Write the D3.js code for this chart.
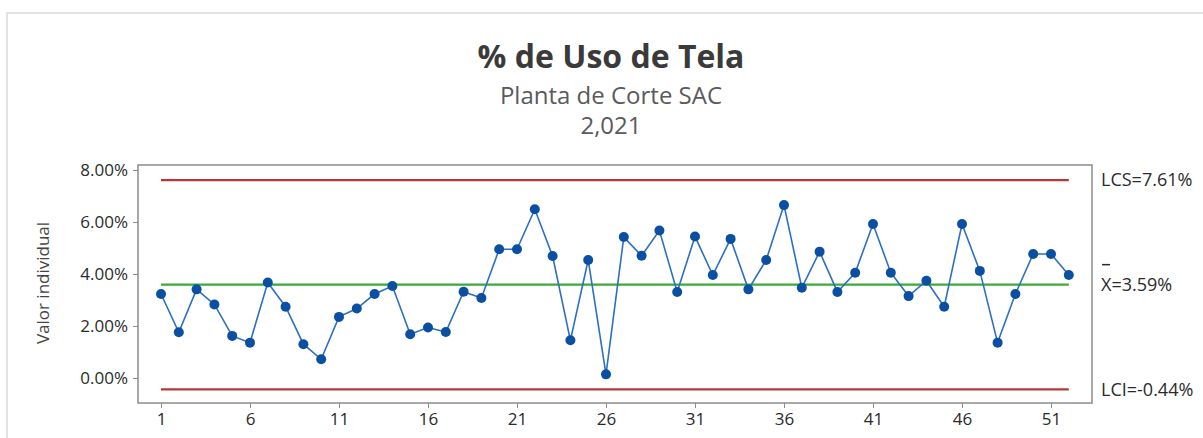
<!DOCTYPE html>
<html>
<head>
<meta charset="utf-8">
<script src="https://cdn.jsdelivr.net/npm/d3@7"></script>
<style>
  body { margin: 0; background: #fff; }
  svg { font-family: "Open Sans", "Noto Sans", sans-serif; }
</style>
</head>
<body>
<svg id="sg"></svg>
<script>
// observation numbers and individual values (%)
const obs = d3.range(1, 53);
const values = [
  3.23, 1.76, 3.41, 2.83, 1.62, 1.36, 3.67, 2.74, 1.30, 0.72,
  2.35, 2.67, 3.23, 3.54, 1.68, 1.94, 1.77, 3.32, 3.08, 4.95,
  4.95, 6.49, 4.69, 1.45, 4.54, 0.14, 5.42, 4.70, 5.67, 3.31,
  5.44, 3.96, 5.35, 3.41, 4.54, 6.65, 3.47, 4.86, 3.31, 4.05,
  5.92, 4.05, 3.15, 3.74, 2.74, 5.92, 4.12, 1.36, 3.23, 4.77,
  4.77, 3.96
];
const limits = { lcs: 7.61, mean: 3.59, lci: -0.44 };
const xTicks = [1, 6, 11, 16, 21, 26, 31, 36, 41, 46, 51];
const yTicks = [0, 2, 4, 6, 8];
const titles = ["% de Uso de Tela", "Planta de Corte SAC", "2,021"];

let svgWidth = 1203,
  svgHeight = 438;
let svg = d3.select("#sg").attr("width", svgWidth).attr("height", svgHeight);

// outer panel border
svg.append("rect")
  .attr("x", 7).attr("y", 13)
  .attr("width", 1230).attr("height", 460)
  .attr("fill", "none")
  .attr("stroke", "#d9d9d9")
  .attr("stroke-width", 1.5);

// titles
svg.append("text").attr("x", 611).attr("y", 68)
  .attr("text-anchor", "middle").attr("font-size", 32).attr("font-weight", "bold")
  .attr("fill", "#3a3a3a").text(titles[0]);
svg.append("text").attr("x", 611).attr("y", 104)
  .attr("text-anchor", "middle").attr("font-size", 24)
  .attr("fill", "#5a5a5a").text(titles[1]);
svg.append("text").attr("x", 611).attr("y", 134)
  .attr("text-anchor", "middle").attr("font-size", 24)
  .attr("fill", "#5a5a5a").text(titles[2]);

// plot frame
let frame = { left: 138, top: 165, right: 1092, bottom: 403 };
let x = d3.scaleLinear().domain([1, 51]).range([161, 1051]);
let y = d3.scaleLinear().domain([0, 8]).range([378, 170]);

svg.append("rect")
  .attr("x", frame.left).attr("y", frame.top)
  .attr("width", frame.right - frame.left).attr("height", frame.bottom - frame.top)
  .attr("fill", "none").attr("stroke", "#8c8c8c").attr("stroke-width", 1.5);

let yAxis = d3.axisLeft(y).tickValues(yTicks).tickSize(5).tickPadding(5)
  .tickFormat(d => d.toFixed(2) + "%");
let gy = svg.append("g").attr("transform", "translate(" + frame.left + ",0)").call(yAxis);
gy.select(".domain").remove();
gy.selectAll("line").attr("stroke", "#8c8c8c");
gy.selectAll("text").attr("font-size", 17).attr("fill", "#2a2a2a")
  .attr("font-family", "Open Sans, sans-serif");

let xAxis = d3.axisBottom(x).tickValues(xTicks).tickSize(5).tickPadding(5);
let gx = svg.append("g").attr("transform", "translate(0," + frame.bottom + ")").call(xAxis);
gx.select(".domain").remove();
gx.selectAll("line").attr("stroke", "#8c8c8c");
gx.selectAll("text").attr("font-size", 17).attr("fill", "#2a2a2a")
  .attr("font-family", "Open Sans, sans-serif");

svg.append("text")
  .attr("transform", "translate(49,283) rotate(-90)")
  .attr("text-anchor", "middle").attr("font-size", 17).attr("fill", "#444")
  .text("Valor individual");

// control lines
let lineSpec = [
  { v: limits.lcs, c: "#b23a3a", label: "LCS=7.61%" },
  { v: limits.mean, c: "#3aaa3a", label: "X=3.59%" },
  { v: limits.lci, c: "#b23a3a", label: "LCI=-0.44%" }
];
svg.selectAll(".cl").data(lineSpec).enter().append("line")
  .attr("x1", x(1)).attr("x2", x(52))
  .attr("y1", d => y(d.v)).attr("y2", d => y(d.v))
  .attr("stroke", d => d.c).attr("stroke-width", 2.2);

svg.selectAll(".cll").data(lineSpec).enter().append("text")
  .attr("x", 1101).attr("y", d => y(d.v)).attr("dy", "0.35em")
  .attr("font-size", 18).attr("fill", "#2a2a2a").text(d => d.label);
// bar over X
svg.append("line")
  .attr("x1", 1102).attr("x2", 1110)
  .attr("y1", y(limits.mean) - 20).attr("y2", y(limits.mean) - 20)
  .attr("stroke", "#2a2a2a").attr("stroke-width", 1.5);

// data series
let data = obs.map((o, i) => ({ o: o, v: values[i] }));
let line = d3.line().x(d => x(d.o)).y(d => y(d.v));
svg.append("path").datum(data)
  .attr("fill", "none").attr("stroke", "#2d6fc0")
  .attr("stroke-width", 1.6).attr("d", line);
svg.selectAll(".pt").data(data).enter().append("circle")
  .attr("cx", d => x(d.o)).attr("cy", d => y(d.v)).attr("r", 5)
  .attr("fill", "#0b4fa3");
</script>
</body>
</html>
